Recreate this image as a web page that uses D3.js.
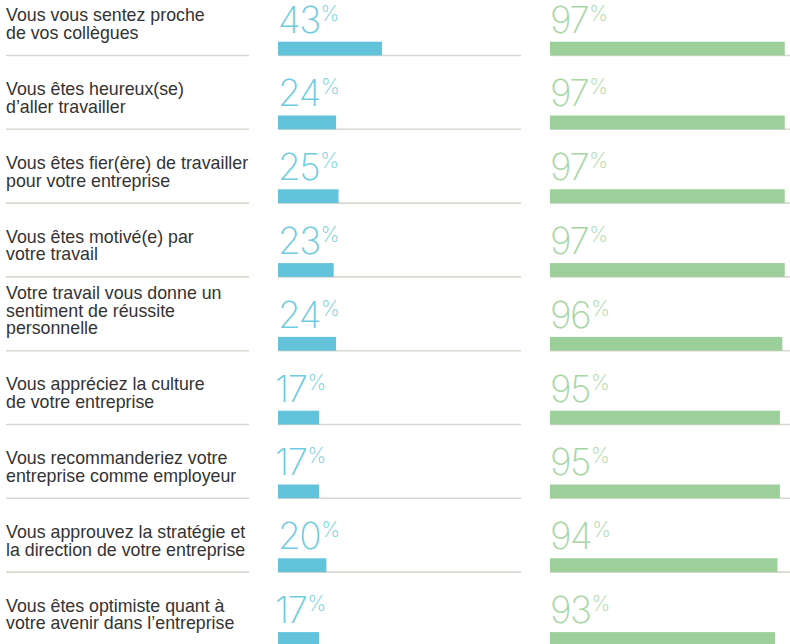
<!DOCTYPE html>
<html>
<head>
<meta charset="utf-8">
<script src="https://cdn.jsdelivr.net/npm/d3@7"></script>
<style>
  body { margin: 0; background: #fff; }
  .label { font-family: "Liberation Sans", Arial, Helvetica, sans-serif; font-size: 17.8px; fill: #333; }
  .num { font-family: Inter, "Open Sans", Roboto, sans-serif; font-weight: 200; }
</style>
</head>
<body>
<script>
// survey statements, one line per array entry
var labels = [
  ["Vous vous sentez proche", "de vos collègues"],
  ["Vous êtes heureux(se)", "d’aller travailler"],
  ["Vous êtes fier(ère) de travailler", "pour votre entreprise"],
  ["Vous êtes motivé(e) par", "votre travail"],
  ["Votre travail vous donne un", "sentiment de réussite", "personnelle"],
  ["Vous appréciez la culture", "de votre entreprise"],
  ["Vous recommanderiez votre", "entreprise comme employeur"],
  ["Vous approuvez la stratégie et", "la direction de votre entreprise"],
  ["Vous êtes optimiste quant à", "votre avenir dans l’entreprise"]
];
var blueValues = [43, 24, 25, 23, 24, 17, 17, 20, 17];
var greenValues = [97, 97, 97, 97, 96, 95, 95, 94, 93];

var width = 790, height = 644;

var svg = d3.select("body").append("svg")
  .attr("width", width)
  .attr("height", height);

var rows = d3.range(labels.length);

var y = d3.scaleBand()
  .domain(rows)
  .range([-18.3, 645.9]);

var xBlue = d3.scaleLinear().domain([0, 100]).range([278, 520]);
var xGreen = d3.scaleLinear().domain([0, 100]).range([550, 792]);

var lineColor = "#d9d8d0";

var row = svg.selectAll(".row")
  .data(rows)
.enter().append("g")
  .attr("class", "row")
  .attr("transform", function(i) { return "translate(0," + (y(i) + y.bandwidth()) + ")"; });

// separator lines
row.append("line")
  .attr("x1", 6).attr("x2", 249)
  .attr("stroke", lineColor).attr("stroke-width", 1.6);
row.append("line")
  .attr("x1", xBlue(0)).attr("x2", 521)
  .attr("stroke", lineColor).attr("stroke-width", 1.6);
row.append("line")
  .attr("x1", xGreen(0)).attr("x2", width)
  .attr("stroke", lineColor).attr("stroke-width", 1.6);

// labels, bottom aligned
row.append("text")
  .attr("class", "label")
  .each(function(i) {
    var t = d3.select(this);
    var n = labels[i].length;
    labels[i].forEach(function(s, k) {
      t.append("tspan")
        .attr("x", 6)
        .attr("y", -16.5 - (n - 1 - k) * 17.6)
        .text(s);
    });
  });

function drawSeries(values, x, barColor, textColor) {
  row.append("rect")
    .attr("x", x(0))
    .attr("y", -13.8)
    .attr("width", function(i) { return x(values[i]) - x(0); })
    .attr("height", 13.8)
    .attr("fill", barColor);

  var t = row.append("text")
    .attr("class", "num")
    .attr("x", function(i) { return x(0) - (String(values[i]).charAt(0) == "1" ? 3 : 0); })
    .attr("y", -23)
    .attr("fill", textColor);
  t.append("tspan")
    .attr("font-size", 37)
    .attr("letter-spacing", -1.5)
    .text(function(i) { return values[i]; });
  t.append("tspan")
    .attr("font-size", 21)
    .attr("dx", 1)
    .attr("dy", -12)
    .text("%");
}

drawSeries(blueValues, xBlue, "#62c3da", "#6ecbe0");
drawSeries(greenValues, xGreen, "#9dcf9b", "#a7d6a4");
</script>
</body>
</html>
